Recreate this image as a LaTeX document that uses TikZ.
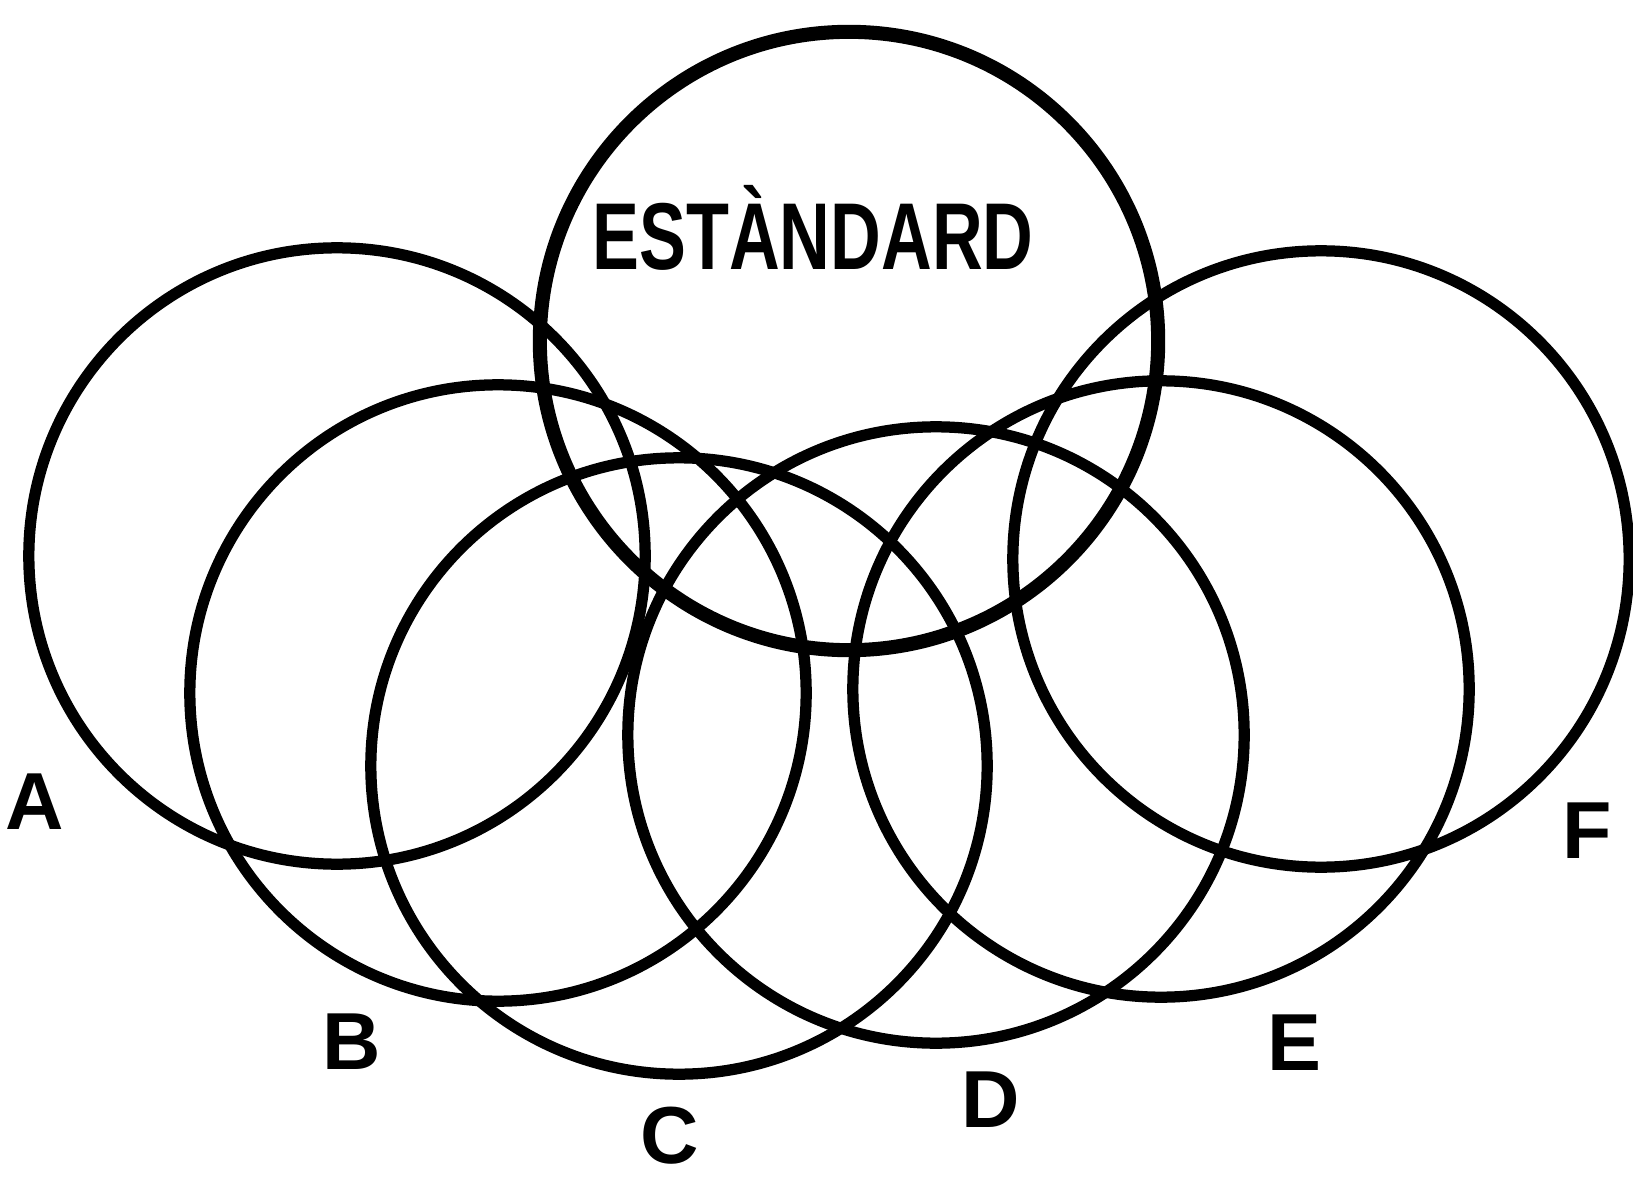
\documentclass[tikz,border=0pt]{standalone}
\usepackage{fontspec}
\setmainfont{Liberation Sans}
\usetikzlibrary{positioning}

\begin{document}
\begin{tikzpicture}[
      x=0.01cm, y=-0.01cm,
      every node/.style={align=center},
      ring/.style={draw, circle, line width=3.2pt, minimum size=6.16cm, inner sep=0pt},
      lab/.style={font=\fontsize{23}{23}\selectfont\bfseries}
   ]
      \useasboundingbox (0,0) rectangle (1633,1182);
      \node[ring] (ringA) at (337,556) {};
      \node[ring] (ringB) at (498,693) {};
      \node[ring] (ringC) at (679,766) {};
      \node[ring] (ringD) at (936,735) {};
      \node[ring] (ringE) at (1161,689) {};
      \node[ring] (ringF) at (1321,559) {};
      \node[ring, line width=4pt, minimum size=6.18cm] (std) at (849,341) {};
      \node[font=\fontsize{27}{27}\selectfont\bfseries] (stdtxt) at (813,228) {\scalebox{0.74}[1]{ESTÀNDARD}};
      \node[lab] (labA) at (35,802) {A};
      \node[lab] (labB) at (352,1042) {B};
      \node[lab] (labC) at (670,1136) {C};
      \node[lab] (labD) at (991,1100) {D};
      \node[lab] (labE) at (1294,1043) {E};
      \node[lab] (labF) at (1587,831) {F};
   \end{tikzpicture}
\end{document}
